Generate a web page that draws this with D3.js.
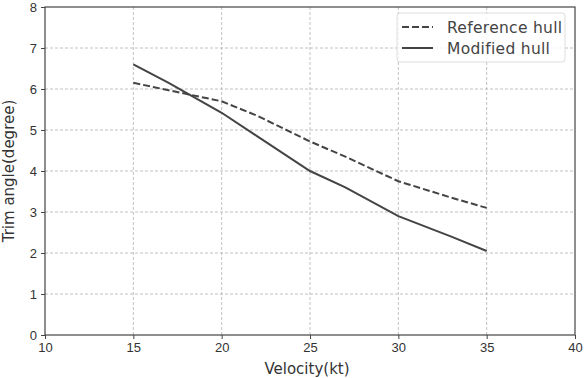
<!DOCTYPE html>
<html><head><meta charset="utf-8">
<script src="https://cdn.jsdelivr.net/npm/d3@7"></script>
<style>body{margin:0;background:#fff}</style>
</head><body>
<script>
const velocity = [15, 17, 20, 22, 25, 27, 30, 33, 35];
const referenceHull = [6.15, 5.97, 5.7, 5.35, 4.72, 4.35, 3.75, 3.35, 3.1];
const modifiedHull = [6.6, 6.15, 5.42, 4.85, 4.0, 3.6, 2.9, 2.4, 2.05];
const xTicks = [10, 15, 20, 25, 30, 35, 40];
const yTicks = [0, 1, 2, 3, 4, 5, 6, 7, 8];
const seriesNames = ["Reference hull", "Modified hull"];

const W = 587, H = 378;
const m = {l: 45, r: 12, t: 7, b: 43};
const svg = d3.select("body").append("svg").attr("width", W).attr("height", H)
  .style("font-family", "DejaVu Sans, sans-serif");
const x = d3.scaleLinear().domain([10, 40]).range([m.l, W - m.r]);
const y = d3.scaleLinear().domain([0, 8]).range([H - m.b, m.t]);
const col = "#444";

// grid
svg.append("g").selectAll("line").data(xTicks.slice(1, -1)).join("line")
  .attr("x1", d => x(d)).attr("x2", d => x(d)).attr("y1", y(0)).attr("y2", y(8))
  .attr("stroke", "#b0b0b0").attr("stroke-width", 0.8).attr("stroke-dasharray", "3,2");
svg.append("g").selectAll("line").data(yTicks.slice(1, -1)).join("line")
  .attr("y1", d => y(d)).attr("y2", d => y(d)).attr("x1", x(10)).attr("x2", x(40))
  .attr("stroke", "#b0b0b0").attr("stroke-width", 0.8).attr("stroke-dasharray", "3,2");

// axes
const xa = svg.append("g").attr("transform", `translate(0,${y(0)})`)
  .call(d3.axisBottom(x).tickValues(xTicks).tickSize(4).tickPadding(4));
const ya = svg.append("g").attr("transform", `translate(${x(10)},0)`)
  .call(d3.axisLeft(y).tickValues(yTicks).tickSize(4).tickPadding(4));
[xa, ya].forEach(a => {
  a.select(".domain").remove();
  a.selectAll("line").attr("stroke", col);
  a.selectAll("text").attr("fill", "#333").style("font-size", "13px");
});
// frame
svg.append("rect").attr("x", x(10)).attr("y", y(8)).attr("width", x(40) - x(10))
  .attr("height", y(0) - y(8)).attr("fill", "none").attr("stroke", col).attr("stroke-width", 1.2);

const line = d3.line().x(d => x(d[0])).y(d => y(d[1]));
svg.append("path").datum(velocity.map((v, i) => [v, referenceHull[i]]))
  .attr("d", line).attr("fill", "none").attr("stroke", col).attr("stroke-width", 2)
  .attr("stroke-dasharray", "7,3");
svg.append("path").datum(velocity.map((v, i) => [v, modifiedHull[i]]))
  .attr("d", line).attr("fill", "none").attr("stroke", col).attr("stroke-width", 2);

// legend
const lg = svg.append("g").attr("transform", "translate(397,13)");
lg.append("rect").attr("width", 168).attr("height", 49).attr("rx", 3)
  .attr("fill", "#fff").attr("fill-opacity", 0.8).attr("stroke", "#ddd");
seriesNames.forEach((n, i) => {
  const yy = 14 + i * 21;
  lg.append("line").attr("x1", 5).attr("x2", 36).attr("y1", yy).attr("y2", yy)
    .attr("stroke", col).attr("stroke-width", 2)
    .attr("stroke-dasharray", i === 0 ? "7,3" : null);
  lg.append("text").attr("x", 50).attr("y", yy + 5.5).text(n)
    .attr("fill", "#444").style("font-size", "15.5px").style("letter-spacing", "0.3px");
});

// axis labels
svg.append("text").attr("x", (x(10) + x(40)) / 2 - 3).attr("y", 374)
  .attr("text-anchor", "middle").attr("fill", "#333").style("font-size", "15px").text("Velocity(kt)");
svg.append("text").attr("transform", `translate(14,${(y(0) + y(8)) / 2}) rotate(-90)`)
  .attr("text-anchor", "middle").attr("fill", "#333").style("font-size", "15px").text("Trim angle(degree)");
</script>
</body></html>
